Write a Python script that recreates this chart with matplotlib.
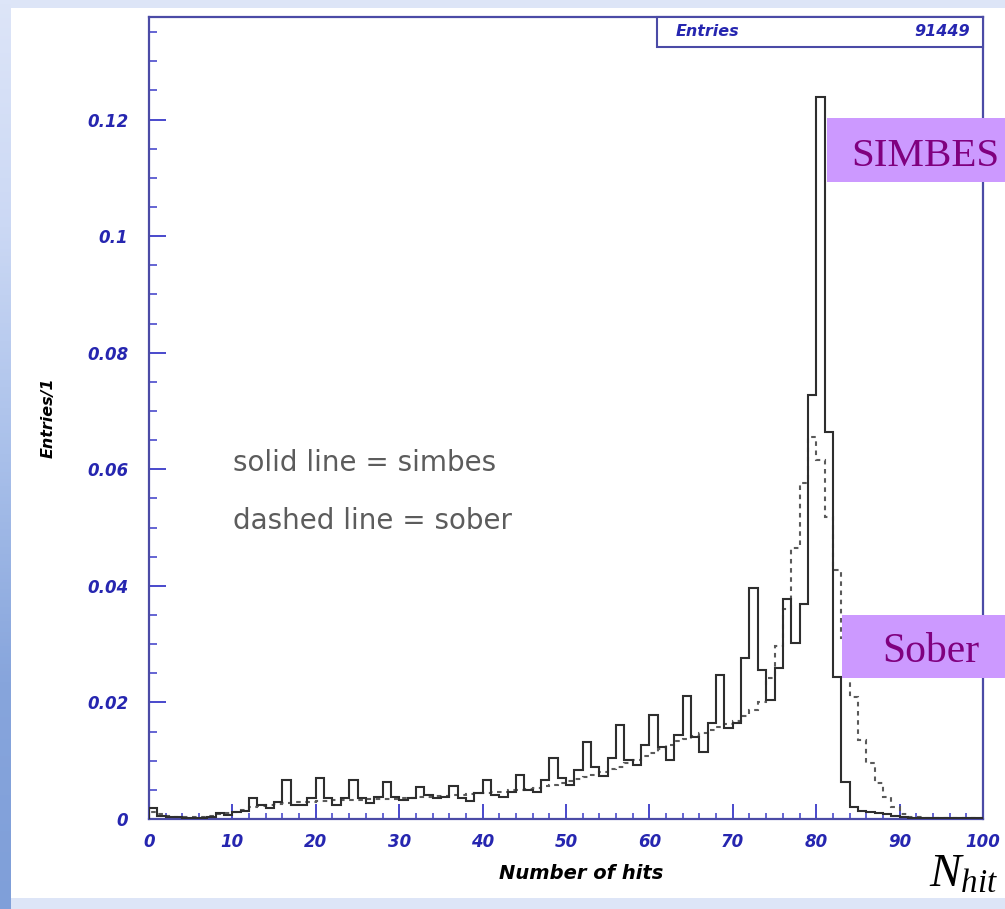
import numpy as np
import matplotlib
matplotlib.use("Agg")
import matplotlib.pyplot as plt
from matplotlib.patches import Rectangle
from matplotlib.colors import LinearSegmentedColormap
from matplotlib.ticker import MultipleLocator, FixedLocator, FixedFormatter

# ---- histogram data: fraction of events per 1-hit bin, N_hit = 0..100 ----
bin_edges = np.arange(0, 101, 1)

simbes = [
    0.0019, 0.0006, 0.0004, 0.0003, 0.0002, 0.0002, 0.0002, 0.0003, 0.0010, 0.0007,
    0.0012, 0.0013, 0.0036, 0.0024, 0.0019, 0.0030, 0.0067, 0.0024, 0.0024, 0.0036,
    0.0070, 0.0036, 0.0024, 0.0036, 0.0067, 0.0036, 0.0027, 0.0038, 0.0064, 0.0038,
    0.0033, 0.0036, 0.0055, 0.0042, 0.0036, 0.0038, 0.0057, 0.0036, 0.0031, 0.0045,
    0.0067, 0.0041, 0.0038, 0.0047, 0.0076, 0.0050, 0.0047, 0.0067, 0.0104, 0.0070,
    0.0058, 0.0084, 0.0132, 0.0090, 0.0073, 0.0104, 0.0161, 0.0101, 0.0093, 0.0127,
    0.0178, 0.0124, 0.0101, 0.0144, 0.0211, 0.0140, 0.0115, 0.0165, 0.0247, 0.0156,
    0.0165, 0.0277, 0.0396, 0.0256, 0.0204, 0.0259, 0.0377, 0.0302, 0.0369, 0.0727,
    0.1238, 0.0664, 0.0244, 0.0064, 0.0021, 0.0014, 0.0012, 0.0010, 0.0008, 0.0006,
    0.0004, 0.0002, 0.0002, 0.0001, 0.0001, 0.0001, 0.0001, 0.0001, 0.0001, 0.0001,
]

sober = [
    0.0012, 0.0008, 0.0006, 0.0004, 0.0003, 0.0003, 0.0004, 0.0006, 0.0008, 0.0010,
    0.0012, 0.0016, 0.0020, 0.0022, 0.0024, 0.0026, 0.0028, 0.0029, 0.0030, 0.0030,
    0.0031, 0.0031, 0.0032, 0.0032, 0.0033, 0.0033, 0.0034, 0.0034, 0.0035, 0.0035,
    0.0036, 0.0036, 0.0037, 0.0038, 0.0039, 0.0040, 0.0041, 0.0042, 0.0043, 0.0044,
    0.0045, 0.0046, 0.0047, 0.0049, 0.0050, 0.0052, 0.0054, 0.0056, 0.0059, 0.0062,
    0.0065, 0.0068, 0.0072, 0.0076, 0.0080, 0.0085, 0.0090, 0.0096, 0.0102, 0.0108,
    0.0114, 0.0120, 0.0127, 0.0133, 0.0138, 0.0143, 0.0148, 0.0153, 0.0158, 0.0163,
    0.0168, 0.0176, 0.0187, 0.0200, 0.0242, 0.0296, 0.0360, 0.0465, 0.0576, 0.0656,
    0.0616, 0.0519, 0.0427, 0.0310, 0.0210, 0.0136, 0.0096, 0.0061, 0.0038, 0.0021,
    0.0008, 0.0004, 0.0003, 0.0002, 0.0001, 0.0001, 0.0001, 0.0001, 0.0001, 0.0001,
]

entries_total = 91449
y_ticks = [0, 0.02, 0.04, 0.06, 0.08, 0.1, 0.12]
y_tick_labels = ["0", "0.02", "0.04", "0.06", "0.08", "0.1", "0.12"]
x_ticks = list(range(0, 101, 10))
x_tick_labels = [str(v) for v in x_ticks]

# ---- canvas ----
W, H = 1005, 909
fig = plt.figure(figsize=(W / 100, H / 100), dpi=100)
fig.patch.set_facecolor("#dde5f7")


def fx(px):
    return px / W


def fy(py):
    return 1 - py / H


# white slide panel
fig.add_artist(Rectangle((fx(10), fy(898)), 1.0, fy(8) - fy(898),
                         transform=fig.transFigure, facecolor="white",
                         edgecolor="none", zorder=0))

# blue gradient strip on the left edge of the slide
strip_cmap = LinearSegmentedColormap.from_list(
    "strip", ["#dde5f8", "#cbd8f4", "#a9c0ea", "#87a5dc", "#7f9fd9"])
gax = fig.add_axes([0, 0, fx(10), 1])
gax.imshow(np.linspace(0, 1, 256).reshape(-1, 1), aspect="auto",
           cmap=strip_cmap, extent=[0, 1, 0, 1], origin="upper")
gax.axis("off")

# ---- histogram axes ----
blue_axis = "#4b4ba6"
blue_tick = "#3a3ac8"
blue_text = "#2626b0"

ax = fig.add_axes([fx(149), fy(819), (983 - 149) / W, (819 - 17) / H])
ax.set_facecolor("white")
ax.set_xlim(0, 100)
ax.set_ylim(0, 0.1376)

ax.stairs(sober, bin_edges, color="#5a5a5a", lw=1.5,
          linestyle=(0, (2.2, 2.2)), zorder=3)
ax.stairs(simbes, bin_edges, color="#2e2e2e", lw=1.5, zorder=4)

for sp in ax.spines.values():
    sp.set_color(blue_axis)
    sp.set_linewidth(1.6)

ax.yaxis.set_major_locator(FixedLocator(y_ticks))
ax.yaxis.set_major_formatter(FixedFormatter(y_tick_labels))
ax.yaxis.set_minor_locator(MultipleLocator(0.005))
ax.xaxis.set_major_locator(FixedLocator(x_ticks))
ax.xaxis.set_major_formatter(FixedFormatter(x_tick_labels))
ax.xaxis.set_minor_locator(MultipleLocator(2))

tick_font = dict(family="DejaVu Sans", weight="bold", style="italic", size=12)
ax.tick_params(axis="y", which="major", direction="in", length=12, width=1.3,
               color=blue_tick, labelcolor=blue_text, pad=15)
ax.tick_params(axis="y", which="minor", direction="in", length=6, width=1.1,
               color=blue_tick)
ax.tick_params(axis="x", which="major", direction="in", length=11, width=1.3,
               color=blue_tick, labelcolor=blue_text, pad=10)
ax.tick_params(axis="x", which="minor", direction="in", length=4, width=1.1,
               color=blue_tick)
for lab in ax.get_xticklabels() + ax.get_yticklabels():
    lab.set_fontproperties(matplotlib.font_manager.FontProperties(**tick_font))

ax.set_xlabel("Number of hits", family="DejaVu Sans", weight="bold",
              style="italic", size=14, color="black")
ax.xaxis.set_label_coords((581 - 149) / 834, (819 - 864) / 802)
ax.set_ylabel("Entries/1", family="DejaVu Sans", weight="bold",
              style="italic", size=11.5, color="black")
ax.yaxis.set_label_coords((56 - 149) / 834, 0.5)

# statistics box
ax.add_patch(Rectangle(((657 - 149) / 834, (819 - 47) / 802),
                       1 - (657 - 149) / 834, 1 - (819 - 47) / 802,
                       transform=ax.transAxes, facecolor="white",
                       edgecolor=blue_axis, lw=1.5, zorder=5, clip_on=False))
ax.text((676 - 149) / 834, (819 - 32) / 802, "Entries", transform=ax.transAxes,
        ha="left", va="center", family="DejaVu Sans", weight="bold",
        style="italic", size=11.5, color=blue_text, zorder=6)
ax.text((970 - 149) / 834, (819 - 32) / 802, f"{entries_total}",
        transform=ax.transAxes, ha="right", va="center", family="DejaVu Sans",
        weight="bold", style="italic", size=11.5, color=blue_text, zorder=6)

# line-style key
key_font = dict(family="DejaVu Sans", size=20, color="#5c5c5c")
ax.text((233 - 149) / 834, (819 - 463) / 802, "solid line = simbes",
        transform=ax.transAxes, ha="left", va="center", **key_font)
ax.text((233 - 149) / 834, (819 - 521) / 802, "dashed line = sober",
        transform=ax.transAxes, ha="left", va="center", **key_font)

# ---- slide callouts ----
plt.rcParams["mathtext.fontset"] = "custom"
plt.rcParams["mathtext.rm"] = "Liberation Serif"
plt.rcParams["mathtext.it"] = "Liberation Serif:italic"

callout_face = "#cc99ff"
callout_text = "#80007f"
fig.add_artist(Rectangle((fx(827), fy(182)), 0.3, fy(118) - fy(182),
                         transform=fig.transFigure, facecolor=callout_face,
                         edgecolor="none", zorder=10))
fig.text(fx(851), fy(166), "SIMBES", family="Liberation Serif", size=29.5,
         color=callout_text, ha="left", va="baseline", zorder=11)

fig.add_artist(Rectangle((fx(842), fy(678)), 0.3, fy(615) - fy(678),
                         transform=fig.transFigure, facecolor=callout_face,
                         edgecolor="none", zorder=10))
fig.text(fx(882), fy(662), "Sober", family="Liberation Serif", size=30,
         color=callout_text, ha="left", va="baseline", zorder=11)

fig.text(fx(929), fy(887), r"$N_{hit}$", size=34, color="black",
         ha="left", va="baseline", zorder=11)

fig.savefig("out.png", dpi=100, facecolor=fig.get_facecolor())
